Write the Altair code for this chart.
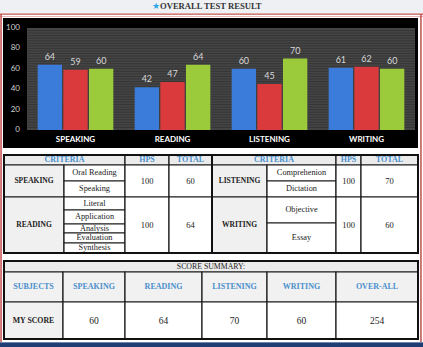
import altair as alt
import pandas as pd

# ---------------- data ----------------
TITLE = "OVERALL TEST RESULT"
SUBJECTS = ["SPEAKING", "READING", "LISTENING", "WRITING"]
SERIES = ["Series 1", "Series 2", "Series 3"]
SERIES_1 = [64, 42, 60, 61]
SERIES_2 = [59, 47, 45, 62]
SERIES_3 = [60, 64, 70, 60]
Y_TICKS = [0, 20, 40, 60, 80, 100]

CRIT_HEADERS = ["CRITERIA", "HPS", "TOTAL"]
SPEAKING_CRITERIA = ["Oral Reading", "Speaking"]
READING_CRITERIA = ["Literal", "Application", "Analysis", "Evaluation", "Synthesis"]
LISTENING_CRITERIA = ["Comprehenion", "Dictation"]
WRITING_CRITERIA = ["Objective", "Essay"]
HPS = [100, 100, 100, 100]
TOTALS = [60, 64, 70, 60]

SUMMARY_TITLE = "SCORE SUMMARY:"
SUMMARY_HEADERS = ["SUBJECTS", "SPEAKING", "READING", "LISTENING", "WRITING", "OVER-ALL"]
MY_SCORE_LABEL = "MY SCORE"
MY_SCORES = [60, 64, 70, 60]
OVERALL = 254

# ---------------- layout / style ----------------
W, H = 423, 347
PLOT_X = [27, 415]
PLOT_Y = [130, 28]
BLUE, RED, GREEN = "#3b7bd9", "#db3a3d", "#9bcb3b"
SERIF = "Liberation Serif"
HEAD_BLUE = "#4a8fcc"
INK = "#222222"

T1_C = [4, 64, 125, 169, 212, 267, 336, 361, 418]
T1_R = [155, 165, 181, 197, 210, 224, 233, 243, 253]
W_SPLIT = 223
T2_C = [4, 63, 125, 202, 267, 336, 418]
T2_R = [261, 272, 302, 339]

ONE = pd.DataFrame({"k": [0]})


def deco(x0, x1, y0, y1, fill):
    return alt.Chart(ONE).mark_rect(fill=fill).encode(
        x=alt.value(x0), x2=alt.value(x1), y=alt.value(y0), y2=alt.value(y1))


# ---------------- decorations ----------------
decos = [
    deco(0, W, 0, 13, "#eef0f3"),
    deco(0, W, 13.5, 14.8, "#c0504d"),
    deco(0, W, 16, 17, "#e8b4b4"),
    deco(0.3, 1.8, 14, 343, "#c0504d"),
    deco(420.2, 421.7, 14, 343, "#c0504d"),
    deco(3, 418, 18, 148, "#000000"),
    deco(PLOT_X[0], PLOT_X[1], PLOT_Y[1], PLOT_Y[0], "#454545"),
    deco(0, W, 342, 347, "#1f3c73"),
    deco(0, W, 342, 343, "#6d87b5"),
]

title_star = alt.Chart(pd.DataFrame({"t": ["\u2605"]})).mark_text(
    font="DejaVu Sans", fontSize=9, color="#2ea6e6", align="right", baseline="middle"
).encode(text="t:N", x=alt.value(160), y=alt.value(5.5))
title_txt = alt.Chart(pd.DataFrame({"t": [TITLE]})).mark_text(
    font=SERIF, fontSize=8.6, fontWeight="bold", color="#333333", align="left", baseline="middle"
).encode(text="t:N", x=alt.value(160), y=alt.value(5.5))

# ---------------- bar chart ----------------
rows = []
for name, vals in zip(SERIES, [SERIES_1, SERIES_2, SERIES_3]):
    for s, v in zip(SUBJECTS, vals):
        rows.append({"subject": s, "series": name, "value": v})
bar_df = pd.DataFrame(rows)

xs = alt.Scale(domain=SUBJECTS, range=PLOT_X, paddingInner=0.22, paddingOuter=0.11)
ys = alt.Scale(domain=[0, 100], range=PLOT_Y, nice=False, zero=True)
xo = alt.XOffset("series:N", scale=alt.Scale(domain=SERIES, paddingInner=0.05))

stripes = alt.Chart(pd.DataFrame({"value": [i * 2.5 for i in range(1, 40)]})).mark_rule(
    color="#363636", strokeWidth=1
).encode(y=alt.Y("value:Q", scale=ys, axis=None), x=alt.value(PLOT_X[0]), x2=alt.value(PLOT_X[1]))

bars = alt.Chart(bar_df).mark_bar().encode(
    x=alt.X("subject:N", scale=xs, axis=None, sort=SUBJECTS),
    xOffset=xo,
    y=alt.Y("value:Q", scale=ys, axis=None),
    color=alt.Color("series:N", scale=alt.Scale(domain=SERIES, range=[BLUE, RED, GREEN]), legend=None),
)
vlabels = alt.Chart(bar_df).mark_text(
    font="Lato", fontSize=9, color="#d8d8d8", baseline="bottom", dy=-3
).encode(
    x=alt.X("subject:N", scale=xs, axis=None, sort=SUBJECTS),
    xOffset=xo,
    y=alt.Y("value:Q", scale=ys, axis=None),
    text="value:Q",
)
cat_labels = alt.Chart(pd.DataFrame({"subject": SUBJECTS})).mark_text(
    font="Lato", fontSize=8, fontWeight="bold", color="white", baseline="middle"
).encode(x=alt.X("subject:N", scale=xs, axis=None, sort=SUBJECTS), y=alt.value(140), text="subject:N")
ytick_labels = alt.Chart(pd.DataFrame({"value": Y_TICKS})).mark_text(
    font="Lato", fontSize=8, color="#d0d0d0", align="right", baseline="middle"
).encode(y=alt.Y("value:Q", scale=ys, axis=None), x=alt.value(20), text="value:Q")

bar_layer = alt.layer(stripes, bars, vlabels, cat_labels, ytick_labels)

# ---------------- tables ----------------
FILLS = {"head": "#ebebeb", "subj": "#f0f0f0", "sub": "white", "num": "white",
         "title": "#ececec", "head2": "#f1f1f1", "subj2": "#f1f1f1", "num2": "white"}
TEXT_STYLE = {
    "head": dict(fontSize=8, fontWeight="bold", color=HEAD_BLUE),
    "subj": dict(fontSize=7.5, fontWeight="bold", color=INK),
    "sub": dict(fontSize=8.3, color=INK),
    "num": dict(fontSize=8.5, color=INK),
    "title": dict(fontSize=7.8, color=INK),
    "head2": dict(fontSize=8, fontWeight="bold", color=HEAD_BLUE),
    "subj2": dict(fontSize=7.8, fontWeight="bold", color=INK),
    "num2": dict(fontSize=9.5, color=INK),
}

t1 = []


def c1(a, b, y0, y1, label, kind):
    t1.append(dict(x0=T1_C[a], x1=T1_C[b], y0=y0, y1=y1, label=label, kind=kind))


R = T1_R
c1(0, 2, R[0], R[1], CRIT_HEADERS[0], "head")
c1(2, 3, R[0], R[1], CRIT_HEADERS[1], "head")
c1(3, 4, R[0], R[1], CRIT_HEADERS[2], "head")
c1(4, 6, R[0], R[1], CRIT_HEADERS[0], "head")
c1(6, 7, R[0], R[1], CRIT_HEADERS[1], "head")
c1(7, 8, R[0], R[1], CRIT_HEADERS[2], "head")
# speaking
c1(0, 1, R[1], R[3], SUBJECTS[0], "subj")
for i, n in enumerate(SPEAKING_CRITERIA):
    c1(1, 2, R[1 + i], R[2 + i], n, "sub")
c1(2, 3, R[1], R[3], str(HPS[0]), "num")
c1(3, 4, R[1], R[3], str(TOTALS[0]), "num")
# reading
c1(0, 1, R[3], R[8], SUBJECTS[1], "subj")
for i, n in enumerate(READING_CRITERIA):
    c1(1, 2, R[3 + i], R[4 + i], n, "sub")
c1(2, 3, R[3], R[8], str(HPS[1]), "num")
c1(3, 4, R[3], R[8], str(TOTALS[1]), "num")
# listening
c1(4, 5, R[1], R[3], SUBJECTS[2], "subj")
for i, n in enumerate(LISTENING_CRITERIA):
    c1(5, 6, R[1 + i], R[2 + i], n, "sub")
c1(6, 7, R[1], R[3], str(HPS[2]), "num")
c1(7, 8, R[1], R[3], str(TOTALS[2]), "num")
# writing
c1(4, 5, R[3], R[8], SUBJECTS[3], "subj")
c1(5, 6, R[3], W_SPLIT, WRITING_CRITERIA[0], "sub")
c1(5, 6, W_SPLIT, R[8], WRITING_CRITERIA[1], "sub")
c1(6, 7, R[3], R[8], str(HPS[3]), "num")
c1(7, 8, R[3], R[8], str(TOTALS[3]), "num")

t2 = []


def c2(a, b, y0, y1, label, kind):
    t2.append(dict(x0=T2_C[a], x1=T2_C[b], y0=y0, y1=y1, label=label, kind=kind))


c2(0, 6, T2_R[0], T2_R[1], SUMMARY_TITLE, "title")
for i, h in enumerate(SUMMARY_HEADERS):
    c2(i, i + 1, T2_R[1], T2_R[2], h, "head2")
c2(0, 1, T2_R[2], T2_R[3], MY_SCORE_LABEL, "subj2")
for i, v in enumerate(MY_SCORES + [OVERALL]):
    c2(i + 1, i + 2, T2_R[2], T2_R[3], str(v), "num2")

cells = pd.DataFrame(t1 + t2)
cells["fill"] = cells["kind"].map(FILLS)
cells["xm"] = (cells["x0"] + cells["x1"]) / 2
cells["ym"] = (cells["y0"] + cells["y1"]) / 2

frames = pd.DataFrame([
    dict(x0=T1_C[0], x1=T1_C[4], y0=T1_R[0], y1=T1_R[-1]),
    dict(x0=T1_C[4], x1=T1_C[-1], y0=T1_R[0], y1=T1_R[-1]),
    dict(x0=T2_C[0], x1=T2_C[-1], y0=T2_R[0], y1=T2_R[-1]),
])

px = alt.Scale(domain=[0, W], range=[0, W], nice=False, zero=False)
py = alt.Scale(domain=[0, H], range=[0, H], nice=False, zero=False)

cell_rects = alt.Chart(cells).mark_rect(stroke="#1a1a1a", strokeWidth=1.2).encode(
    x=alt.X("x0:Q", scale=px, axis=None), x2="x1:Q",
    y=alt.Y("y0:Q", scale=py, axis=None), y2="y1:Q",
    fill=alt.Fill("fill:N", scale=None),
)
frame_rects = alt.Chart(frames).mark_rect(fill=None, fillOpacity=0, stroke="#111111", strokeWidth=2).encode(
    x=alt.X("x0:Q", scale=px, axis=None), x2="x1:Q",
    y=alt.Y("y0:Q", scale=py, axis=None), y2="y1:Q",
)
texts = []
for kind, st in TEXT_STYLE.items():
    texts.append(
        alt.Chart(cells).transform_filter(alt.datum.kind == kind).mark_text(
            font=SERIF, baseline="middle", align="center", **st
        ).encode(
            x=alt.X("xm:Q", scale=px, axis=None),
            y=alt.Y("ym:Q", scale=py, axis=None),
            text="label:N",
        )
    )
table_layer = alt.layer(cell_rects, frame_rects, *texts)

chart = alt.layer(*decos, title_star, title_txt, bar_layer, table_layer).resolve_scale(
    x="independent", y="independent", color="independent"
).properties(
    width=W, height=H, padding=0, background="white",
    autosize=alt.AutoSizeParams(type="none"),
).configure_view(stroke=None)

chart.save("out.html", embed_options={"renderer": "svg", "actions": False})
